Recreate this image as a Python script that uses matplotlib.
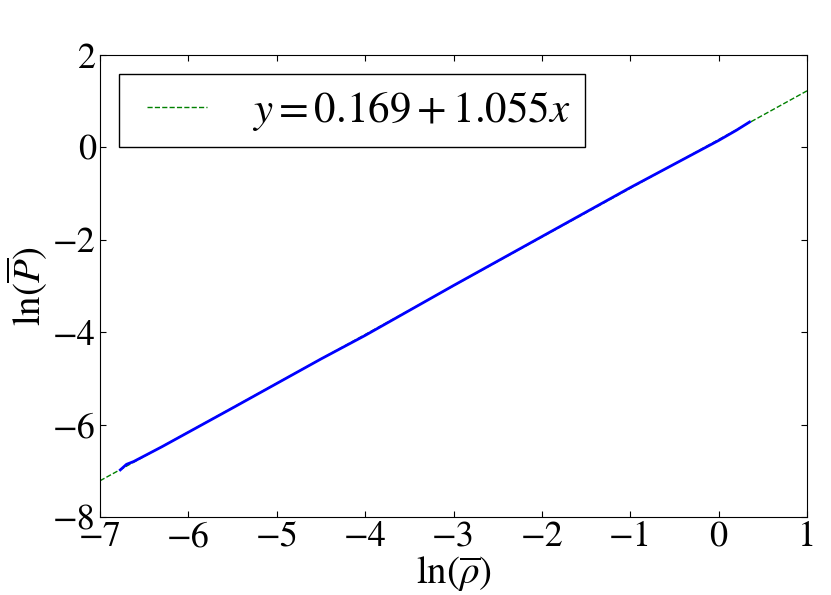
import matplotlib
matplotlib.use("Agg")
import matplotlib.pyplot as plt
from matplotlib.legend_handler import HandlerLine2D
import numpy as np

plt.rcParams['mathtext.fontset'] = 'stix'
plt.rcParams['font.family'] = ['STIXGeneral', 'DejaVu Serif']

# fit parameters
a = 0.169
b = 1.055

# measured curve ln(rho) vs ln(P)
ln_rho = [-6.77, -6.70, -6.62, -6.3, -5.5, -4.5, -4.0, -3.0, -2.0, -1.0, -0.5, 0.0, 0.2, 0.35]
ln_P = [-6.98, -6.86, -6.80, -6.48, -5.64, -4.58, -4.07, -2.99, -1.93, -0.87, -0.36, 0.15, 0.37, 0.55]

fig = plt.figure(figsize=(8.31, 5.95), dpi=100)
ax = fig.add_axes([100/831, 1-517/595, 707/831, 462/595])

xfit = np.array([-7, 1])
fit_line, = ax.plot(xfit, a + b*xfit, 'g--', lw=1, label=r'$y=0.169+1.055x$')
ax.plot(ln_rho, ln_P, 'b-', lw=2)

ax.set_xlim(-7, 1)
ax.set_ylim(-8, 2)
ax.set_xticks(range(-7, 2))
ax.set_yticks(range(-8, 3, 2))
ax.tick_params(direction='in', top=True, right=True, length=4, labelsize=26, pad=3)
ax.set_xlabel(r'$\ln(\overline{\rho})$', fontsize=28, labelpad=0)
ax.set_ylabel(r'$\ln(\overline{P})$', fontsize=28, labelpad=2)

leg = ax.legend(loc='upper left', fontsize=31, fancybox=False, handlelength=1.7,
                handletextpad=1.05, borderaxespad=0.45, borderpad=0.33, framealpha=1,
                handler_map={fit_line: HandlerLine2D(xpad=0.3)})
leg.get_frame().set_edgecolor('black')

fig.savefig('out.png', dpi=100)
